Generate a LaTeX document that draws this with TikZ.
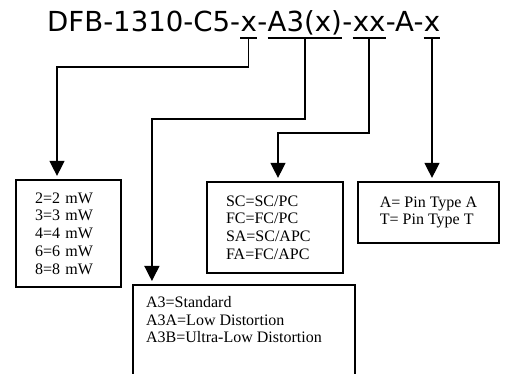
\documentclass[tikz,border=0pt]{standalone}
\usepackage{fontspec}
\setmainfont{Liberation Serif}
\newfontfamily\partfont{DejaVu Sans}
\usetikzlibrary{arrows.meta}

\tikzset{
    part/.style={inner sep=0pt, anchor=base west, font=\partfont\fontsize{27.6}{30}\selectfont},
    codebox/.style={draw, line width=2.2pt, align=left, inner xsep=19pt, font=\fontsize{16}{17.7}\selectfont},
    link/.style={line width=1.3pt, -{Triangle[width=15pt,length=15pt]}, shorten >=3pt},
}

\begin{document}
\begin{tikzpicture}[x=1pt,y=1pt]
    \useasboundingbox (0,0) rectangle (505,374);
    \clip (0,0) rectangle (505,374);

    % part number
    \node [part] (head) at (47,342)         {DFB-1310-C5-};
    \node [part] (pw)   at (head.base east) {x};
    \node [part] (d1)   at (pw.base east)   {-};
    \node [part] (wl)   at (d1.base east)   {A3(x)};
    \node [part] (d2)   at (wl.base east)   {-};
    \node [part] (conn) at (d2.base east)   {xx};
    \node [part] (d3)   at (conn.base east) {-A-};
    \node [part] (pin)  at (d3.base east)   {x};

    \foreach \p in {pw,wl,conn,pin}{%
        \draw [line width=1.6pt] ([yshift=-6pt]\p.base west) -- ([yshift=-6pt]\p.base east);
        \coordinate (\p-u) at ([yshift=-6pt]\p.base);}

    % option boxes
    \node [codebox, text width=67pt, minimum height=107pt] (pwbox) at (68.5,140.5)
        {2=2 mW\\3=3 mW\\4=4 mW\\6=6 mW\\8=8 mW};
    \node [codebox, text width=98pt, minimum height=91pt] (connbox) at (275,146.5)
        {SC=SC/PC\\FC=FC/PC\\SA=SC/APC\\FA=FC/APC};
    \node [codebox, minimum width=141pt, minimum height=61pt] (pinbox) at (428.5,161.5)
        {A= Pin Type A\\T= Pin Type T};
    \node [codebox, minimum width=222pt, minimum height=120pt, anchor=north] (wlbox) at (244,90) {};
    \node [anchor=north west, align=left, inner sep=0pt, font=\fontsize{16}{17.7}\selectfont] (wltext)
        at ([shift={(14pt,-12pt)}]wlbox.north west)
        {A3=Standard\\A3A=Low Distortion\\A3B=Ultra-Low Distortion};

    \draw [link] (pw-u) -- (pw-u |- 0,307) -| ([xshift=-11.5pt]pwbox.north);
    \draw [link] (wl-u) -- (wl-u |- 0,255) -| ([xshift=20pt]wlbox.north west);
    \draw [link] (conn-u) -- (conn-u |- 0,241) -| ([xshift=3pt]connbox.north);
    \draw [link] (pin-u) -- (pin-u |- pinbox.north);
\end{tikzpicture}
\end{document}
